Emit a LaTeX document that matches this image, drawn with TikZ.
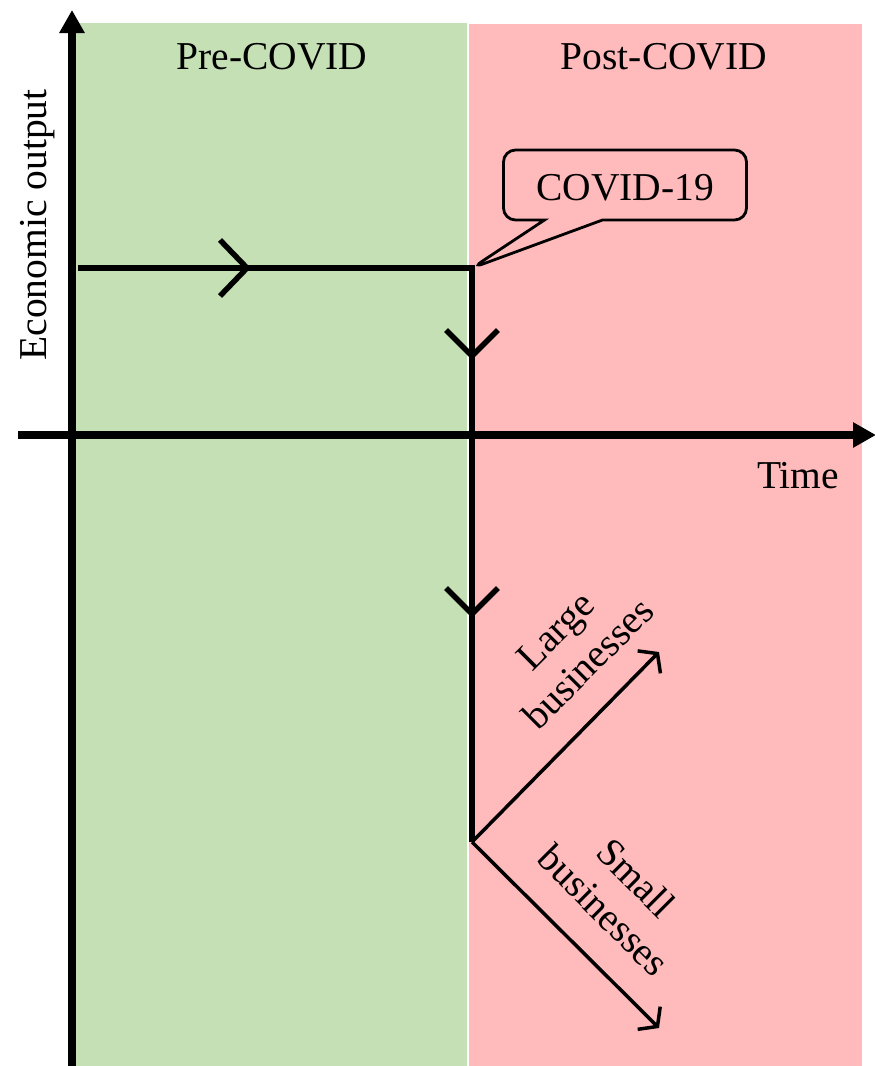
\documentclass[tikz,border=0pt]{standalone}
\usepackage{fontspec}
\setmainfont{Liberation Serif}
\usetikzlibrary{arrows.meta,shapes.callouts}
\definecolor{pregreen}{RGB}{197,224,180}
\definecolor{postpink}{RGB}{255,187,187}
\tikzset{
  lbl/.style={font=\fontsize{39.5}{46}\selectfont, inner sep=0pt, align=center},
  axis/.style={line width=8pt, -{Triangle[width=24pt,length=23pt]}},
  trend/.style={line width=5.5pt},
  chev/.style={line width=5.5pt, line cap=butt},
  branch/.style={line width=3.5pt, -{Straight Barb[length=12pt,width=32pt,line width=3.5pt]}},
  bubble/.style={rectangle callout, draw, line width=2.8pt, rounded corners=12pt, fill=postpink,
    minimum width=243pt, minimum height=70pt, inner sep=0pt,
    callout pointer width=58pt}
}
\begin{document}
\begin{tikzpicture}[x=1pt,y=-1pt]
\useasboundingbox (0,0) rectangle (875,1066);
\fill[white] (0,0) rectangle (875,1066);
% regions
\fill[pregreen] (72,23) rectangle (467,1066);
\fill[postpink] (469,24) rectangle (862,1066);
% labels of regions
\node[lbl, anchor=base] (pre) at (272,69) {Pre-COVID};
\node[lbl, anchor=base] (post) at (664,69) {Post-COVID};
% axes
\coordinate (ybot) at (72,1066);
\coordinate (ytop) at (72,10);
\coordinate (xl) at (18,435);
\coordinate (xr) at (876,435);
\draw[axis] (ybot) -- (ytop);
\draw[axis] (xl) -- (xr);
\node[lbl, anchor=base] (time) at (798,488) {Time};
\node[lbl, anchor=base, rotate=90] (econ) at (46,225) {Economic output};
% trend
\coordinate (start) at (78,268);
\coordinate (shock) at (472,268);
\coordinate (split) at (472,842);
\coordinate (large) at (659,652);
\coordinate (small) at (659,1028);
\draw[trend, line join=miter] (start) -- (shock) -- (split);
\draw[chev] (220,240) -- (247,268) -- (220,296);
\draw[chev] (446,330) -- (472,356) -- (498,330);
\draw[chev] (446,588) -- (472,614) -- (498,588);
\draw[branch] (split) -- (large);
\draw[branch] (split) -- (small);
% callout
\node[bubble, callout absolute pointer={(shock)}] (covid) at (625,185) {};
\node[lbl, anchor=base] (covidtxt) at (625,200) {COVID-19};
% branch labels
\node[lbl, rotate=45] (largelbl) at (572,647) {Large\\businesses};
\node[lbl, rotate=-45] (smalllbl) at (620,894) {Small\\businesses};
\end{tikzpicture}
\end{document}
